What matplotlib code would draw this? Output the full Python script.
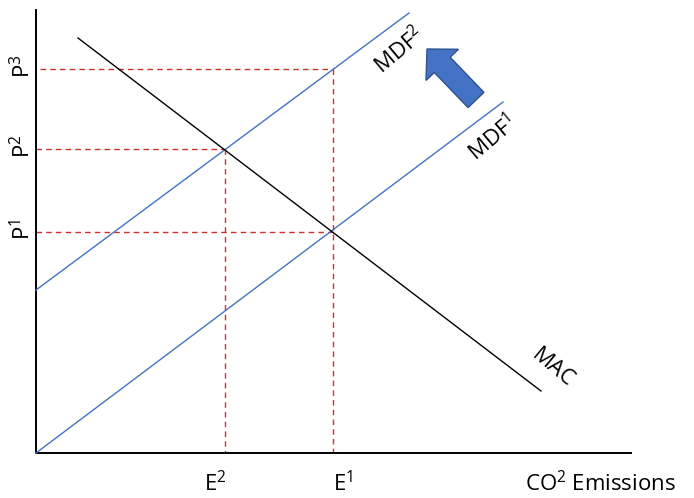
import matplotlib.pyplot as plt
from matplotlib.patches import FancyArrow

plt.rcParams['font.family'] = ['Open Sans', 'DejaVu Sans']
plt.rcParams['mathtext.fontset'] = 'custom'
plt.rcParams['mathtext.rm'] = 'Open Sans'
plt.rcParams['mathtext.it'] = 'Open Sans'
plt.rcParams['mathtext.default'] = 'rm'

# coordinates are in picture units (x right, y down), 694 x 498
axis_x = [36, 36, 631]
axis_y = [10, 453, 453]

mdf1_x = [36, 503]
mdf1_y = [453, 102]
mdf2_x = [36, 409]
mdf2_y = [290, 13]
mac_x = [78, 541]
mac_y = [38, 391]

# equilibrium points (emission, price)
e_pos = [225, 333]
p_pos = [232, 149, 69]
# horizontal guide: (y, x_start, x_end)
h_guides = [(232, 36, 333), (149, 36, 225), (69, 40, 333)]
# vertical guide: (x, y_top)
v_guides = [(225, 149), (333, 69)]

p_labels = ['P$^1$', 'P$^2$', 'P$^3$']
e_labels = ['E$^2$', 'E$^1$']
e_label_x = [215, 343]

fig = plt.figure(figsize=(6.94, 4.98), dpi=100)
ax = fig.add_axes([0, 0, 1, 1])
ax.set_xlim(0, 694)
ax.set_ylim(498, 0)
ax.axis('off')

blue = '#4472C4'
red = '#D0302A'

for y, x0, x1 in h_guides:
    ax.plot([x0, x1], [y, y], color=red, lw=1, ls=(0, (4, 3)))
for x, y0 in v_guides:
    ax.plot([x, x], [y0, 453], color=red, lw=1, ls=(0, (4, 3)))

ax.plot(axis_x, axis_y, color='black', lw=1.4)
ax.plot(mdf1_x, mdf1_y, color=blue, lw=1)
ax.plot(mdf2_x, mdf2_y, color=blue, lw=1)
ax.plot(mac_x, mac_y, color='black', lw=1)

for y, lab in zip(p_pos, p_labels):
    ax.text(23, y - 3, lab, rotation=90, ha='center', va='center', fontsize=16)
for x, lab in zip(e_label_x, e_labels):
    ax.text(x, 484, lab, ha='center', va='center', fontsize=16)
ax.text(600, 484, 'CO$^2$ Emissions', ha='center', va='center', fontsize=16)

ax.text(399, 50, 'MDF$^2$', rotation=40, ha='center', va='center', fontsize=16)
ax.text(493, 138, 'MDF$^1$', rotation=40, ha='center', va='center', fontsize=16)
ax.text(553, 368, 'MAC', rotation=-40, ha='center', va='center', fontsize=16)

ax.add_patch(FancyArrow(476, 100, -49, -51, width=22, head_width=45,
                        head_length=22, length_includes_head=True,
                        facecolor=blue, edgecolor='#2F528F', lw=1))

fig.savefig('out.png', dpi=100)
